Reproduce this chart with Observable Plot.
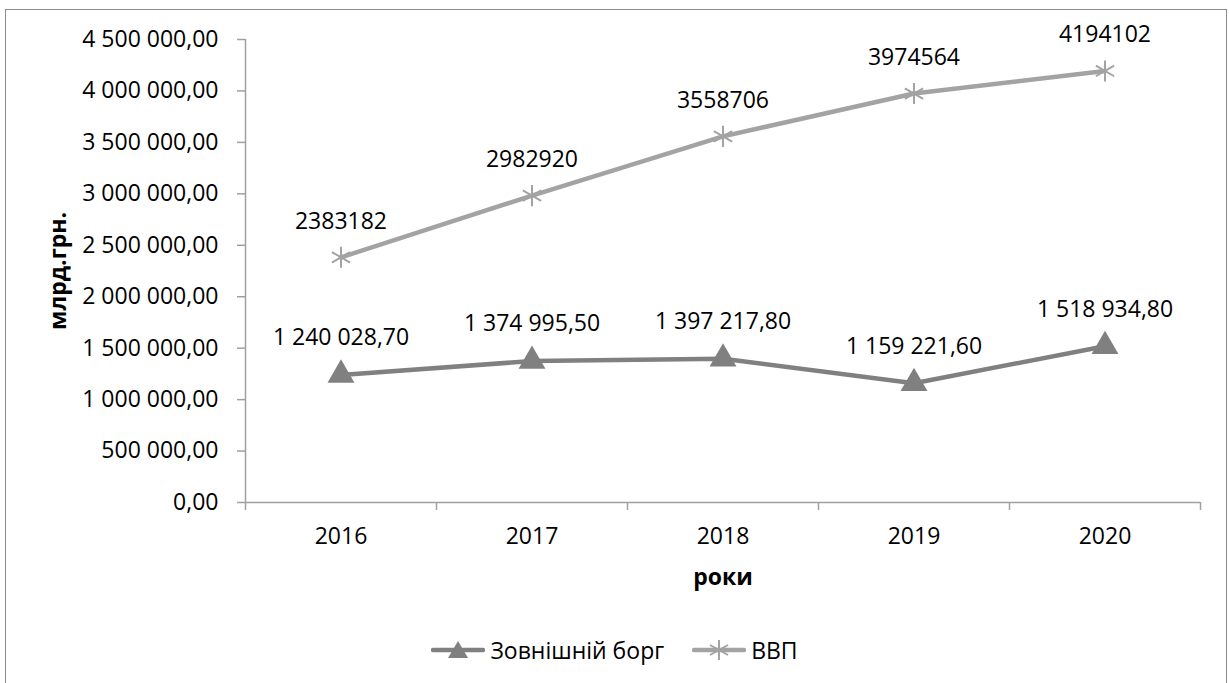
<!DOCTYPE html>
<html>
<head>
<meta charset="utf-8">
<script src="https://cdn.jsdelivr.net/npm/d3@7"></script>
<script src="https://cdn.jsdelivr.net/npm/@observablehq/plot@0.6"></script>
<style>
  html, body { margin: 0; padding: 0; background: #fff; }
  #wrap { position: relative; width: 1229px; height: 683px; overflow: hidden; font-family: "Open Sans", sans-serif; }
  #frame { position: absolute; left: 5px; top: 9px; width: 1222px; height: 720px; border: 1px solid #8c8c8c; box-sizing: border-box; }
  #chart { position: absolute; left: 0; top: 0; }
  #chart svg { overflow: visible; }
  [aria-label="y-axis label"] text, [aria-label="x-axis label"] text { font-weight: bold; }
  #legend { position: absolute; left: 0; top: 634px; width: 1229px; display: flex; justify-content: center; align-items: center; gap: 28px; font-size: 23px; color: #000; }
  .item { display: flex; align-items: center; gap: 5px; }
</style>
</head>
<body>
<div id="wrap">
  <div id="frame"></div>
  <div id="chart"></div>
  <div id="legend"></div>
</div>
<script>
const years = [2016, 2017, 2018, 2019, 2020];
const debt = [1240028.7, 1374995.5, 1397217.8, 1159221.6, 1518934.8];
const gdp = [2383182, 2982920, 3558706, 3974564, 4194102];
const yTicks = [0, 500000, 1000000, 1500000, 2000000, 2500000, 3000000, 3500000, 4000000, 4500000];
const seriesNames = ["Зовнішній борг", "ВВП"];
const debtColor = "#808080";
const gdpColor = "#a3a3a3";

const loc = d3.formatLocale({decimal: ",", thousands: " ", grouping: [3], currency: ["", ""]});
const fmt2 = loc.format(",.2f");
const fmtInt = d3.format("d");

const rows = years.map((y, i) => ({year: y, debt: debt[i], gdp: gdp[i]}));
const bounds = [years[0] - 0.5, ...years.map(y => y + 0.5)];

const chart = Plot.plot({
  width: 1229,
  height: 600,
  marginTop: 39,
  marginBottom: 98,
  marginLeft: 245,
  marginRight: 29,
  style: {fontFamily: "Open Sans, sans-serif", fontSize: "23px", color: "#000", background: "transparent"},
  x: {domain: [bounds[0], bounds[bounds.length - 1]]},
  y: {domain: [0, 4500000]},
  marks: [
    Plot.ruleX([bounds[0]], {stroke: "#a0a0a0", strokeWidth: 1.5}),
    Plot.ruleY([0], {stroke: "#a0a0a0", strokeWidth: 1.5}),
    Plot.axisY({ticks: yTicks, tickFormat: fmt2, tickSize: 8, tickPadding: 19, stroke: "#a0a0a0", strokeWidth: 1.5,
      label: "млрд.грн.", labelAnchor: "center", labelArrow: "none", labelOffset: 196}),
    Plot.axisX({ticks: bounds, tickFormat: () => "", tickSize: 8, stroke: "#a0a0a0", strokeWidth: 1.5, label: null}),
    Plot.axisX({ticks: years, tickFormat: fmtInt, tickSize: 0, tickPadding: 25,
      label: "роки", labelAnchor: "center", labelArrow: "none", labelOffset: 82}),
    Plot.line(rows, {x: "year", y: "debt", stroke: debtColor, strokeWidth: 4.5}),
    Plot.line(rows, {x: "year", y: "gdp", stroke: gdpColor, strokeWidth: 4.5}),
    Plot.dot(rows, {x: "year", y: "debt", symbol: "triangle", fill: debtColor, stroke: "none", r: 10}),
    Plot.dot(rows, {x: "year", y: "gdp", symbol: "asterisk", stroke: gdpColor, strokeWidth: 2, r: 10}),
    Plot.text(rows, {x: "year", y: "debt", text: d => fmt2(d.debt), dy: -37, fill: "#000"}),
    Plot.text(rows, {x: "year", y: "gdp", text: d => fmtInt(d.gdp), dy: -36, fill: "#000"})
  ]
});
document.getElementById("chart").appendChild(chart);

// legend
const legend = document.getElementById("legend");
const sw = (kind, color) => {
  const w = 54, h = 24;
  let marker = kind === "triangle"
    ? `<path d="M${w/2},${h/2-9} L${w/2+10},${h/2+8} L${w/2-10},${h/2+8} Z" fill="${color}"/>`
    : `<g stroke="${color}" stroke-width="2"><line x1="${w/2}" y1="${h/2-10}" x2="${w/2}" y2="${h/2+10}"/><line x1="${w/2-9}" y1="${h/2-5}" x2="${w/2+9}" y2="${h/2+5}"/><line x1="${w/2-9}" y1="${h/2+5}" x2="${w/2+9}" y2="${h/2-5}"/></g>`;
  return `<svg width="${w}" height="${h}"><line x1="2" y1="${h/2}" x2="${w-2}" y2="${h/2}" stroke="${color}" stroke-width="4.5" stroke-linecap="round"/>${marker}</svg>`;
};
legend.innerHTML =
  `<div class="item">${sw("triangle", debtColor)}<span>${seriesNames[0]}</span></div>` +
  `<div class="item">${sw("asterisk", gdpColor)}<span>${seriesNames[1]}</span></div>`;
</script>
</body>
</html>
